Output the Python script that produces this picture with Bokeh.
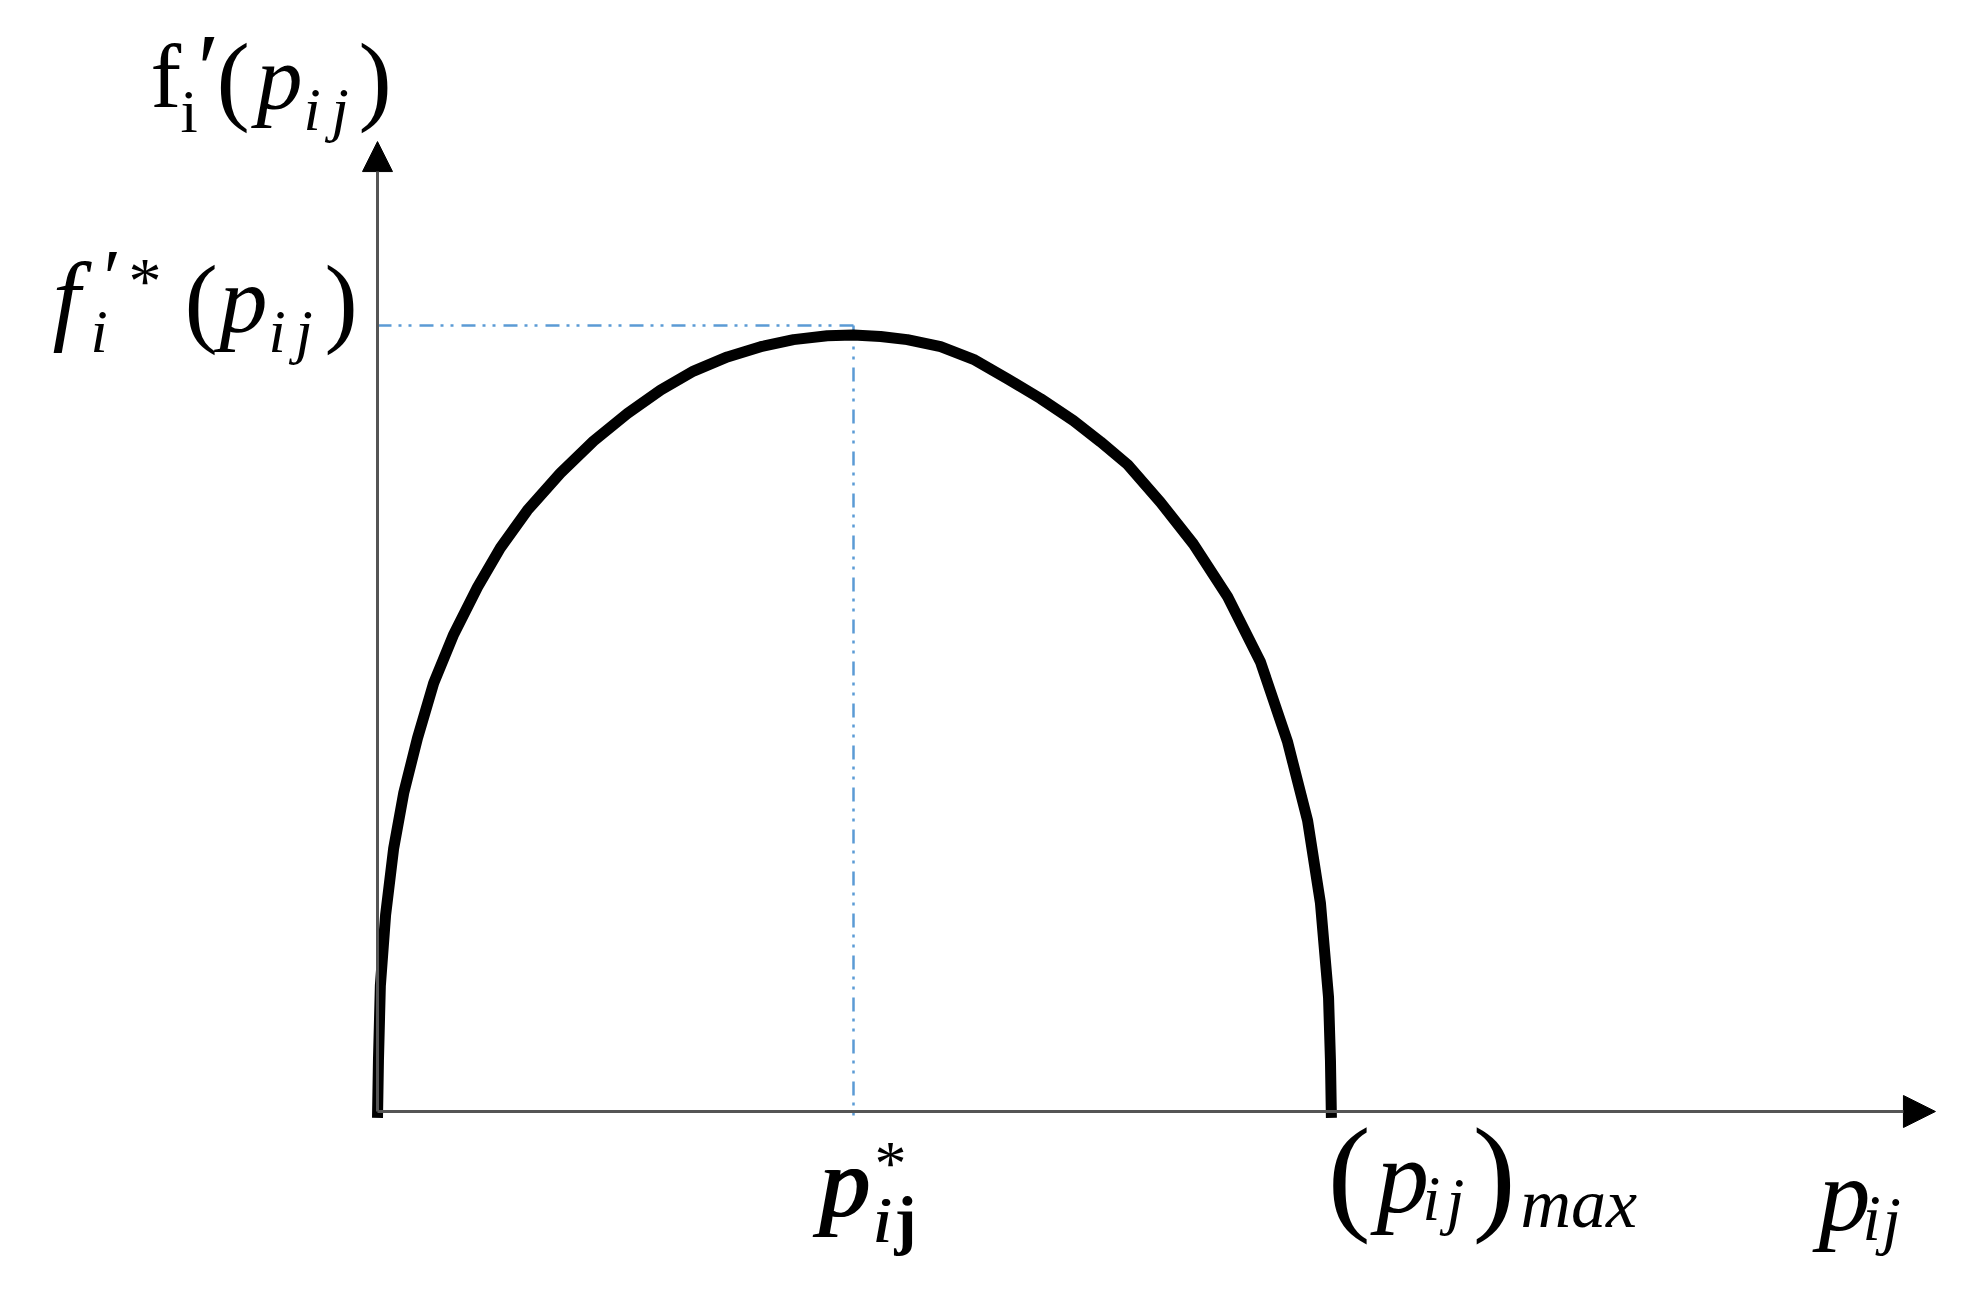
from bokeh.plotting import figure
from bokeh.models import Range1d, Arrow, NormalHead
from bokeh.core.properties import value
from bokeh.embed import file_html
from bokeh.resources import INLINE

# ---------------- data ----------------
# bell-shaped curve f'_i(p_ij); x in units of p*_ij, y in units of f'*_i
curve_x = [0.000, 0.002, 0.006, 0.017, 0.034, 0.055, 0.084, 0.118, 0.160, 0.210,
           0.258, 0.315, 0.384, 0.454, 0.525, 0.595, 0.664, 0.735, 0.805, 0.874,
           0.945, 1.000,
           1.057, 1.113, 1.183, 1.252, 1.324, 1.393, 1.462, 1.519, 1.576, 1.645,
           1.714, 1.786, 1.855, 1.912, 1.954, 1.981, 1.998, 2.002, 2.004]
curve_y = [-0.008, 0.065, 0.160, 0.250, 0.335, 0.405, 0.475, 0.545, 0.607, 0.667,
           0.717, 0.765, 0.812, 0.853, 0.888, 0.918, 0.942, 0.960, 0.973, 0.982,
           0.987, 0.988,
           0.986, 0.982, 0.973, 0.957, 0.932, 0.907, 0.879, 0.852, 0.823, 0.775,
           0.722, 0.655, 0.572, 0.470, 0.370, 0.265, 0.145, 0.065, -0.008]
p_star = 1.0        # optimum p*_ij
p_max = 2.0         # (p_ij)max
f_star = 1.0        # f'*_i(p_ij)
x_axis_end = 3.273  # arrow tip of p_ij axis
y_axis_end = 1.234  # arrow tip of f'_i axis

# ---------------- layout helpers (reference pixel -> data) ----------------
W, H = 1947, 1298
X0, Y0, SX, SY = 377.0, 1111.0, 476.0, 786.0   # origin and px per unit


def dx(X):
    return (X - X0) / SX


def dy(Y):
    return (Y0 - Y) / SY


p = figure(width=W, height=H, output_backend="svg", toolbar_location=None,
           x_axis_type=None, y_axis_type=None, min_border=0,
           x_range=Range1d(dx(0), dx(W)),
           y_range=Range1d(dy(H), dy(0)))
p.outline_line_color = None
p.grid.visible = False
p.background_fill_color = "white"
p.border_fill_color = "white"

BLUE = "#5b9bd5"
DASH = "14 7 3 7 3 8"

# dash-dot guide lines
p.line([0, p_star], [f_star, f_star], line_color=BLUE, line_width=2.5, line_dash=DASH)
p.line([p_star, p_star], [f_star, -0.012], line_color=BLUE, line_width=2.5, line_dash=DASH)

# curve
p.line(curve_x, curve_y, line_color="black", line_width=11,
       line_join="round", line_cap="butt")

FONT = "Liberation Serif"
K = 0.35   # baseline correction (fraction of font size)


def put(txt, X, Y, size, style="normal", bold_copies=1):
    for k in range(bold_copies):
        p.text(x=[dx(X + 1.4 * k)], y=[dy(Y - K * size)], text=[txt],
               text_font=value(FONT), text_font_size=f"{size}px",
               text_font_style=style, text_align="left",
               text_baseline="alphabetic", text_color="black")


# y-axis title  f'_i(p_ij)
put("f", 150, 108, 92)
put("\u2032", 197, 103, 100)
put("i", 180, 132, 62)
put("(", 216, 113, 100)
put("p", 256, 110, 92, "italic")
put("i", 303, 130, 62, "italic")
put("j", 331, 130, 62, "italic")
put(")", 358, 113, 100)

# f'*_i(p_ij)
put("f", 52, 333, 100, "italic")
put("i", 90, 352, 62, "italic")
put("\u2032", 103, 305, 80)
put("*", 128, 303, 66)
put("(", 184, 335, 100)
put("p", 219, 333, 96, "italic")
put("i", 268, 352, 62, "italic")
put("j", 295, 352, 62, "italic")
put(")", 324, 335, 100)

# (p_ij)max
put("(", 1327, 1218, 130)
put("p", 1376, 1213, 105, "italic")
put("i", 1422, 1220, 64, "italic")
put("j", 1446, 1222, 64, "italic")
put(")", 1472, 1218, 130)
put("max", 1520, 1227, 70, "italic")

# p_ij
put("p", 1818, 1230, 104, "italic")
put("i", 1862, 1240, 66, "italic")
put("j", 1882, 1242, 66, "italic")

# p*_ij (bold)
put("p", 818, 1217, 100, "italic", bold_copies=3)
put("*", 874, 1185, 64)
put("i", 872, 1242, 66, "italic", bold_copies=2)
put("j", 894, 1242, 66, "bold")

# axes as arrows
AX = "#555555"
p.add_layout(Arrow(x_start=0, y_start=0, x_end=x_axis_end, y_end=0,
                   line_color=AX, line_width=3,
                   end=NormalHead(size=32, fill_color="black", line_color="black")))
p.add_layout(Arrow(x_start=0, y_start=0, x_end=0, y_end=y_axis_end,
                   line_color=AX, line_width=3,
                   end=NormalHead(size=30, fill_color="black", line_color="black")))

open("out.html", "w").write(file_html(p, INLINE))
